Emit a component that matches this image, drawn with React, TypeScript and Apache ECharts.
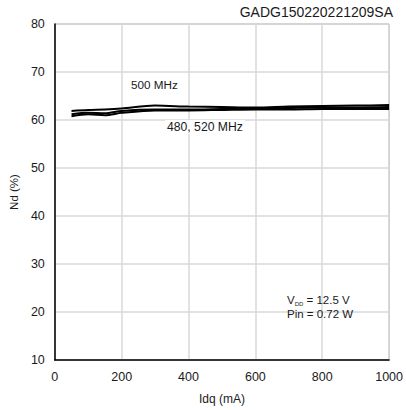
import React, { useEffect, useRef } from "react";
import * as echarts from "echarts";

const idq = [50, 100, 150, 200, 300, 400, 500, 600, 700, 800, 900, 1000];
const nd500 = [61.9, 62.1, 62.2, 62.4, 63.0, 62.8, 62.7, 62.6, 62.8, 62.9, 63.0, 63.1];
const nd480 = [61.2, 61.5, 61.4, 61.9, 62.2, 62.2, 62.3, 62.4, 62.5, 62.6, 62.6, 62.7];
const nd520 = [60.8, 61.2, 61.0, 61.5, 62.0, 62.0, 62.1, 62.2, 62.2, 62.3, 62.3, 62.3];
const xTicks = [0, 200, 400, 600, 800, 1000];
const yTicks = [10, 20, 30, 40, 50, 60, 70, 80];

const FONT = "'Liberation Sans', Arial, sans-serif";
const TXT = "#1a1a1a";

export default function App() {
  const ref = useRef<HTMLDivElement>(null);
  useEffect(() => {
    if (!ref.current) return;
    const chart = echarts.init(ref.current, undefined, { renderer: "svg" });
    const mk = (name: string, vals: number[]) => ({
      name,
      type: "line",
      data: idq.map((x, i) => [x, vals[i]]),
      showSymbol: false,
      smooth: 0.3,
      lineStyle: { color: "#000", width: 2 },
      z: 3,
    });
    chart.setOption({
      animation: false,
      textStyle: { fontFamily: FONT },
      grid: {
        left: 52.5,
        right: 14,
        top: 24,
        bottom: 47,
        show: true,
        borderColor: "#999",
        borderWidth: 1,
      },
      xAxis: {
        type: "value",
        min: xTicks[0],
        max: xTicks[xTicks.length - 1],
        interval: 200,
        name: "Idq (mA)",
        nameLocation: "middle",
        nameGap: 33,
        nameTextStyle: { color: TXT, fontSize: 12, fontFamily: FONT },
        axisLine: { show: true, lineStyle: { color: "#000", width: 1.5 } },
        axisTick: { show: false },
        axisLabel: {
          color: TXT,
          fontSize: 12.5,
          margin: 10,
          fontFamily: FONT,
          formatter: (v: number) => String(v),
        },
        splitLine: { show: true, lineStyle: { color: "#d9d9d9", width: 1.5 } },
      },
      yAxis: {
        type: "value",
        min: yTicks[0],
        max: yTicks[yTicks.length - 1],
        interval: 10,
        name: "Nd (%)",
        nameLocation: "middle",
        nameGap: 34,
        nameRotate: 90,
        nameTextStyle: { color: TXT, fontSize: 11.5, fontFamily: FONT },
        axisLine: { show: true, lineStyle: { color: "#000", width: 1.5 } },
        axisTick: { show: false },
        axisLabel: { color: TXT, fontSize: 12.5, margin: 10, fontFamily: FONT },
        splitLine: { show: true, lineStyle: { color: "#d9d9d9", width: 1.5 } },
      },
      series: [mk("500 MHz", nd500), mk("480 MHz", nd480), mk("520 MHz", nd520)],
      graphic: [
        {
          type: "text",
          right: 13,
          top: 5,
          style: { text: "GADG150220221209SA", fontSize: 14, fill: TXT, fontFamily: FONT },
        },
        {
          type: "text",
          left: 131,
          top: 78,
          z: 10,
          style: { text: "500 MHz", fontSize: 11.7, fill: TXT, fontFamily: FONT },
        },
        {
          type: "text",
          left: 165,
          top: 120,
          z: 10,
          style: {
            text: "480, 520 MHz",
            fontSize: 12.2,
            fill: TXT,
            fontFamily: FONT,
            backgroundColor: "#fff",
            padding: [1, 2, 1, 2],
          },
        },
        {
          type: "text",
          left: 287,
          top: 294,
          z: 10,
          style: {
            text: "{v|V}{s|DD}{v| = 12.5 V}\n{v|Pin = 0.72 W}",
            fill: TXT,
            fontFamily: FONT,
            rich: {
              v: { fontSize: 11.5, fill: TXT, fontFamily: FONT, lineHeight: 14 },
              s: { fontSize: 6, fill: TXT, fontFamily: FONT, verticalAlign: "bottom", lineHeight: 14, padding: [4, 0, 0, 0] },
            },
          },
        },
      ],
    });
    return () => chart.dispose();
  }, []);
  return <div ref={ref} style={{ width: 406, height: 410, position: "absolute", left: 0, top: 0 }} />;
}
